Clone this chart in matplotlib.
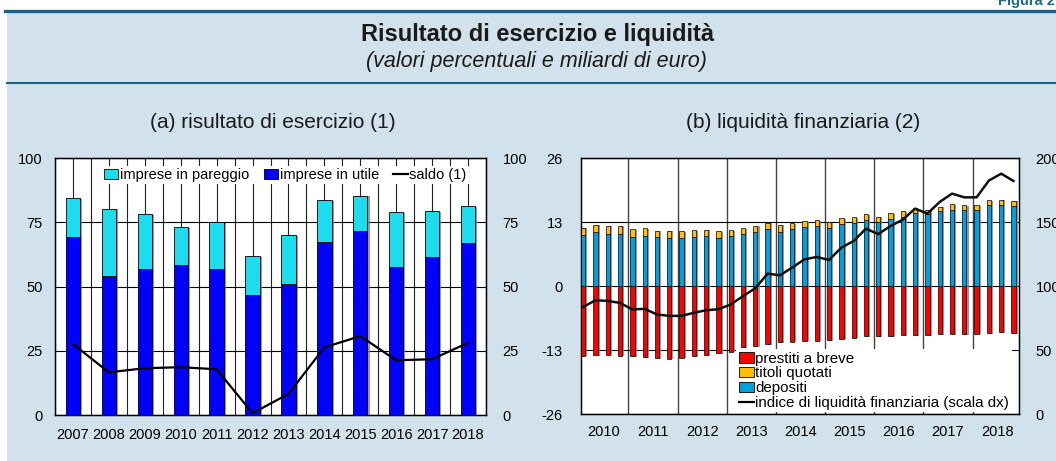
import numpy as np
import matplotlib
matplotlib.use('Agg')
import matplotlib.pyplot as plt
import matplotlib.patheffects as pe
from matplotlib.patches import Rectangle, Patch
from matplotlib.lines import Line2D

plt.rcParams['font.family'] = ['Liberation Sans', 'DejaVu Sans']
plt.rcParams['axes.unicode_minus'] = False

# ---------------- data: panel (a) ----------------
years_a = ['2007', '2008', '2009', '2010', '2011', '2012',
           '2013', '2014', '2015', '2016', '2017', '2018']
imprese_utile = [69.4, 54.0, 56.7, 58.2, 56.8, 46.7, 50.9, 67.3, 71.6, 57.5, 61.5, 67.0]
imprese_pareggio = [14.9, 26.3, 21.5, 14.8, 18.3, 15.2, 19.1, 16.2, 13.7, 21.4, 17.7, 14.3]
saldo = [27.6, 16.6, 18.2, 18.6, 17.8, 0.7, 8.2, 26.3, 30.7, 21.3, 21.7, 28.1]
ticks_a = [0, 25, 50, 75, 100]

# ---------------- data: panel (b) (quarterly 2010Q1-2018Q4) ----------------
years_b = ['2010', '2011', '2012', '2013', '2014', '2015', '2016', '2017', '2018']
depositi = [10.5, 11.0, 10.7, 10.7, 10.0, 10.3, 10.0, 9.9, 9.8, 9.95, 10.2, 9.9,
            10.2, 10.7, 11.0, 11.7, 11.1, 11.6, 12.05, 12.25, 11.9, 12.7, 12.9, 13.5,
            13.1, 13.7, 14.1, 14.9, 14.6, 15.2, 15.6, 15.4, 15.4, 16.45, 16.6, 16.4]
titoli_quotati = [1.4, 1.5, 1.6, 1.6, 1.6, 1.5, 1.3, 1.4, 1.4, 1.45, 1.3, 1.3,
                  1.2, 1.1, 1.3, 1.2, 1.4, 1.2, 1.15, 1.25, 1.2, 1.1, 1.2, 1.1,
                  1.05, 1.1, 1.1, 1.0, 1.0, 1.0, 1.1, 1.05, 1.05, 1.05, 1.0, 1.0]
prestiti_breve = [-14.1, -14.0, -13.9, -14.1, -14.2, -14.35, -14.55, -14.7, -14.5, -14.2, -14.0, -13.6,
                  -13.3, -12.4, -12.2, -11.8, -11.4, -11.25, -11.05, -11.05, -10.9, -10.65, -10.45, -10.1,
                  -10.1, -10.1, -9.97, -9.97, -9.97, -9.77, -9.7, -9.7, -9.63, -9.57, -9.36, -9.57]
indice_liquidita = [83.9, 89.1, 88.6, 87.0, 81.9, 82.4, 78.0, 76.9, 76.9, 79.3, 81.3, 82.1,
                    85.8, 92.3, 98.5, 109.9, 108.6, 114.6, 121.1, 122.9, 120.6, 130.2, 135.4, 145.0,
                    140.8, 147.1, 152.1, 160.7, 156.8, 165.9, 172.4, 169.5, 169.5, 182.6, 188.0, 182.3]
ticks_b_left = [-26, -13, 0, 13, 26]
ticks_b_right = [0, 50, 100, 150, 200]

# ---------------- colours ----------------
BG = '#d2e2ec'
TEAL = '#1d5f80'
CYAN = '#1edcf0'
BLUE = '#0000ff'
RED = '#ff0000'
GOLD = '#ffc000'
SKY = '#00a0e0'

W, H = 1056, 461
fig = plt.figure(figsize=(W / 100, H / 100), dpi=100)
fig.patch.set_facecolor('white')

def fx(px):
    return px / W

def fy(py):
    return 1 - py / H

fig.add_artist(Rectangle((fx(7), 0), 1 - fx(7), fy(11), transform=fig.transFigure,
                         facecolor=BG, edgecolor='none', zorder=-10))
fig.add_artist(Line2D([fx(5), 1], [fy(11), fy(11)], transform=fig.transFigure,
                      color=TEAL, lw=2.4))
fig.add_artist(Line2D([fx(7), 1], [fy(83), fy(83)], transform=fig.transFigure,
                      color=TEAL, lw=1.5))
fig.text(fx(998), fy(5.5), 'Figura 2.1', color='#1f6a93', fontsize=10.5,
         weight='bold', ha='left', va='baseline')
fig.text(fx(538), fy(35), 'Risultato di esercizio e liquidità', fontsize=17,
         weight='bold', ha='center', va='center', color='#1a1a1a')
fig.text(fx(536), fy(61), '(valori percentuali e miliardi di euro)', fontsize=15.5,
         style='italic', ha='center', va='center', color='#1a1a1a')
fig.text(fx(273), fy(123), '(a) risultato di esercizio (1)', fontsize=15,
         ha='center', va='center', color='#1a1a1a')
fig.text(fx(803), fy(123), '(b) liquidità finanziaria (2)', fontsize=15,
         ha='center', va='center', color='#1a1a1a')

shadow = [pe.SimplePatchShadow(offset=(1.5, -0.5), shadow_rgbFace='#808080', alpha=0.8),
          pe.Normal()]

# ================= panel (a) =================
ax1 = fig.add_axes([fx(55), 1 - 415 / H, fx(486) - fx(55), (415 - 158) / H])
ax1.set_facecolor('white')
xa = np.arange(len(years_a))
b1 = ax1.bar(xa, imprese_utile, width=0.4, color=BLUE, edgecolor='black', linewidth=0.6,
             zorder=3)
b2 = ax1.bar(xa, imprese_pareggio, width=0.4, bottom=imprese_utile, color=CYAN,
             edgecolor='black', linewidth=0.6, zorder=3)
for p in list(b1) + list(b2):
    p.set_path_effects(shadow)
l1, = ax1.plot(xa, saldo, color='black', lw=1.6, zorder=4)
ax1.set_xlim(-0.5, len(years_a) - 0.5)
ax1.set_ylim(0, 100)
ax1.set_yticks(ticks_a)
ax1.set_xticks(xa, years_a)
ax1.set_xticks(np.arange(-0.5, len(years_a), 1.0), minor=True)
ax1.grid(axis='x', which='both', color='#222222', lw=0.8, zorder=0)
ax1.grid(axis='y', which='major', color='black', lw=0.8, zorder=0)
ax1.set_axisbelow(True)
ax1.tick_params(axis='both', which='both', length=0, labelsize=10.5)
ax1.tick_params(axis='y', pad=9)
ax1.tick_params(axis='x', pad=9)
for s in ax1.spines.values():
    s.set_linewidth(1.0)
ax1r = ax1.twinx()
ax1r.set_ylim(0, 100)
ax1r.set_yticks(ticks_a)
ax1r.tick_params(axis='y', length=0, labelsize=10.5, pad=12)

h_a = [Patch(facecolor=CYAN, edgecolor='black', linewidth=0.6),
       Patch(facecolor=BLUE, edgecolor='black', linewidth=0.6),
       Line2D([], [], color='black', lw=1.6)]
leg1 = ax1r.legend(h_a, ['imprese in pareggio', 'imprese in utile', 'saldo (1)'],
                   ncol=3, loc='center', bbox_to_anchor=(0.534, 0.934),
                   frameon=True, fancybox=False, framealpha=1, facecolor='white',
                   edgecolor='none', fontsize=10.5, handlelength=1.0, handleheight=0.7,
                   handletextpad=0.1, columnspacing=1.0, borderpad=0.15, borderaxespad=0)

# ================= panel (b) =================
ax2 = fig.add_axes([fx(581), 1 - 414.3 / H, fx(1019) - fx(581), (414.3 - 158.3) / H])
ax2.set_facecolor('white')
xb = np.arange(len(depositi))
pb1 = ax2.bar(xb, prestiti_breve, width=0.35, color=RED, edgecolor='black', linewidth=0.5,
              zorder=3)
pb2 = ax2.bar(xb, depositi, width=0.35, color=SKY, edgecolor='black', linewidth=0.5,
              zorder=3)
pb3 = ax2.bar(xb, titoli_quotati, width=0.35, bottom=depositi, color=GOLD,
              edgecolor='black', linewidth=0.5, zorder=3)
for p in list(pb1) + list(pb2) + list(pb3):
    p.set_path_effects(shadow)
ax2.set_xlim(-0.18, len(depositi) - 0.55)
ax2.set_ylim(-26, 26)
ax2.set_yticks(ticks_b_left)
ax2.set_xticks(np.arange(len(years_b)) * 4 + 1.67, years_b)
ax2.set_xticks(np.arange(1, len(years_b)) * 4 - 0.33, minor=True)
ax2.grid(axis='x', which='minor', color='#444444', lw=1.0, zorder=0)
ax2.grid(axis='x', which='major', visible=False)
ax2.grid(axis='y', which='major', color='black', lw=0.8, zorder=0)
ax2.set_axisbelow(True)
ax2.tick_params(axis='both', which='both', length=0, labelsize=10.5)
ax2.tick_params(axis='y', pad=13)
ax2.tick_params(axis='x', pad=8)
for s in ax2.spines.values():
    s.set_linewidth(1.0)

ax2r = ax2.twinx()
ax2r.set_ylim(0, 200)
ax2r.set_yticks(ticks_b_right)
ax2r.tick_params(axis='y', length=0, labelsize=10.5, pad=12)
l2, = ax2r.plot(xb, indice_liquidita, color='#111111', lw=1.8, zorder=4)

h_b = [Patch(facecolor=RED, edgecolor='black', linewidth=0.6),
       Patch(facecolor=GOLD, edgecolor='black', linewidth=0.6),
       Patch(facecolor=SKY, edgecolor='black', linewidth=0.6),
       Line2D([], [], color='black', lw=1.6)]
leg2 = ax2r.legend(h_b, ['prestiti a breve', 'titoli quotati', 'depositi',
                         'indice di liquidità finanziaria (scala dx)'],
                   loc='lower left', bbox_to_anchor=(0.355, 0.008),
                   frameon=True, fancybox=False, framealpha=1, facecolor='white',
                   edgecolor='none', fontsize=10.9, handlelength=1.0, handleheight=0.7,
                   handletextpad=0.1, labelspacing=0.05, borderpad=0.15, borderaxespad=0)

fig.savefig('out.png', dpi=100, facecolor=fig.get_facecolor())
